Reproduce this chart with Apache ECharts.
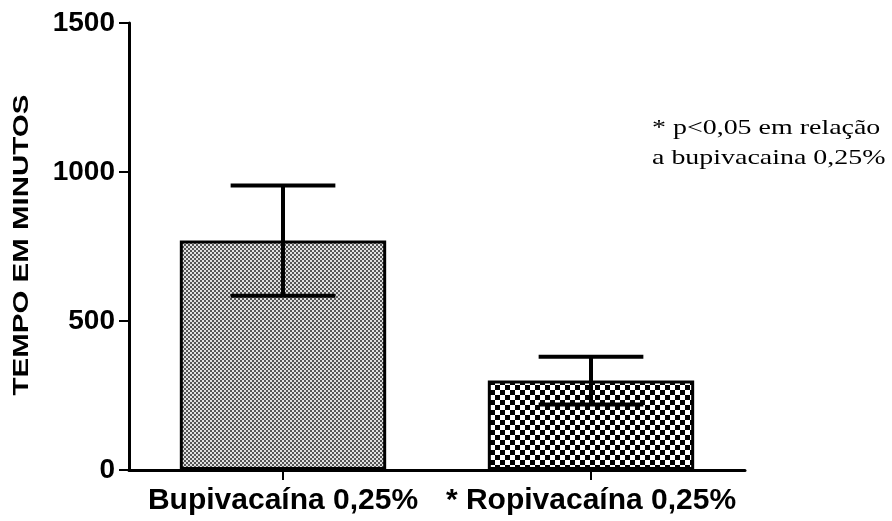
<!DOCTYPE html>
<html>
<head>
<meta charset="utf-8">
<script src="https://cdn.jsdelivr.net/npm/echarts@6/dist/echarts.min.js"></script>
<style>
  html, body { margin: 0; padding: 0; background: #fff; }
  #chart { width: 892px; height: 521px; }
</style>
</head>
<body>
<div id="chart"></div>
<script>
  // grupos
  var categories = ['Bupivacaína 0,25%', '* Ropivacaína 0,25%']
  // tempo medio (min) e desvio
  var means = [770, 300]
  var sds = [185, 80]
  var yTicks = [0, 500, 1000, 1500]
  var yName = 'TEMPO EM MINUTOS'
  var note = '* p<0,05 em relação\na bupivacaina 0,25%'

  // hachuras das barras
  function makePattern(size, cell, dark, light) {
    var c = document.createElement('canvas')
    c.width = size
    c.height = size
    var ctx = c.getContext('2d')
    ctx.fillStyle = light
    ctx.fillRect(0, 0, size, size)
    ctx.fillStyle = dark
    ctx.fillRect(0, 0, cell, cell)
    ctx.fillRect(cell, cell, cell, cell)
    return c
  }
  var fineDots = makePattern(4, 2, '#555', '#e0e0e0')
  var checker = makePattern(10, 5, '#000', '#fff')
  var patterns = [fineDots, checker]

  var chart = echarts.init(document.getElementById('chart'))

  var option = {
    backgroundColor: '#fff',
    animation: false,
    grid: { left: 129, right: 147, top: 23, bottom: 51 },
    xAxis: {
      type: 'category',
      data: categories,
      axisLine: { lineStyle: { color: '#000', width: 3 } },
      axisTick: { show: true, alignWithLabel: true, length: 10, lineStyle: { color: '#000', width: 2 } },
      axisLabel: {
        interval: 0,
        color: '#000',
        fontFamily: 'Liberation Sans, Arial',
        fontWeight: 'bold',
        fontSize: 30,
        margin: 16
      }
    },
    yAxis: {
      type: 'value',
      min: 0,
      max: 1500,
      interval: 500,
      axisLine: { show: true, lineStyle: { color: '#000', width: 3 } },
      axisTick: { show: true, length: 10, lineStyle: { color: '#000', width: 2 } },
      splitLine: { show: false },
      axisLabel: {
        color: '#000',
        fontFamily: 'Liberation Sans, Arial',
        fontWeight: 'bold',
        fontSize: 28,
        margin: 14,
        formatter: function (v) { return yTicks.indexOf(v) >= 0 ? v : '' }
      }
    },
    series: [
      {
        type: 'bar',
        barWidth: '67%',
        data: means.map(function (v, i) {
          return {
            value: v,
            itemStyle: {
              color: { image: patterns[i], repeat: 'repeat' },
              borderColor: '#000',
              borderWidth: 3
            }
          }
        })
      },
      {
        type: 'custom',
        z: 5,
        data: means.map(function (m, i) { return [i, m - sds[i], m + sds[i]] }),
        renderItem: function (params, api) {
          var lo = api.coord([api.value(0), api.value(1)])
          var hi = api.coord([api.value(0), api.value(2)])
          var half = api.size([1, 0])[0] * 0.17
          var style = { stroke: '#000', lineWidth: 4 }
          return {
            type: 'group',
            children: [
              { type: 'line', shape: { x1: hi[0], y1: hi[1], x2: lo[0], y2: lo[1] }, style: style },
              { type: 'line', shape: { x1: hi[0] - half, y1: hi[1], x2: hi[0] + half, y2: hi[1] }, style: style },
              { type: 'line', shape: { x1: lo[0] - half, y1: lo[1], x2: lo[0] + half, y2: lo[1] }, style: style }
            ]
          }
        }
      }
    ],
    graphic: [
      {
        // nome do eixo y, esticado como no original
        type: 'text',
        x: 22,
        y: 245,
        rotation: Math.PI / 2,
        scaleX: 1.34,
        style: {
          text: yName,
          fill: '#000',
          font: 'bold 22px "Liberation Sans", Arial',
          align: 'center',
          verticalAlign: 'middle'
        }
      },
      {
        type: 'text',
        x: 652,
        y: 113,
        scaleX: 1.27,
        style: {
          text: note,
          fill: '#000',
          font: '22px "Liberation Serif", "Times New Roman", serif',
          lineHeight: 30,
          verticalAlign: 'top'
        }
      }
    ]
  }

  chart.setOption(option)
</script>
</body>
</html>
